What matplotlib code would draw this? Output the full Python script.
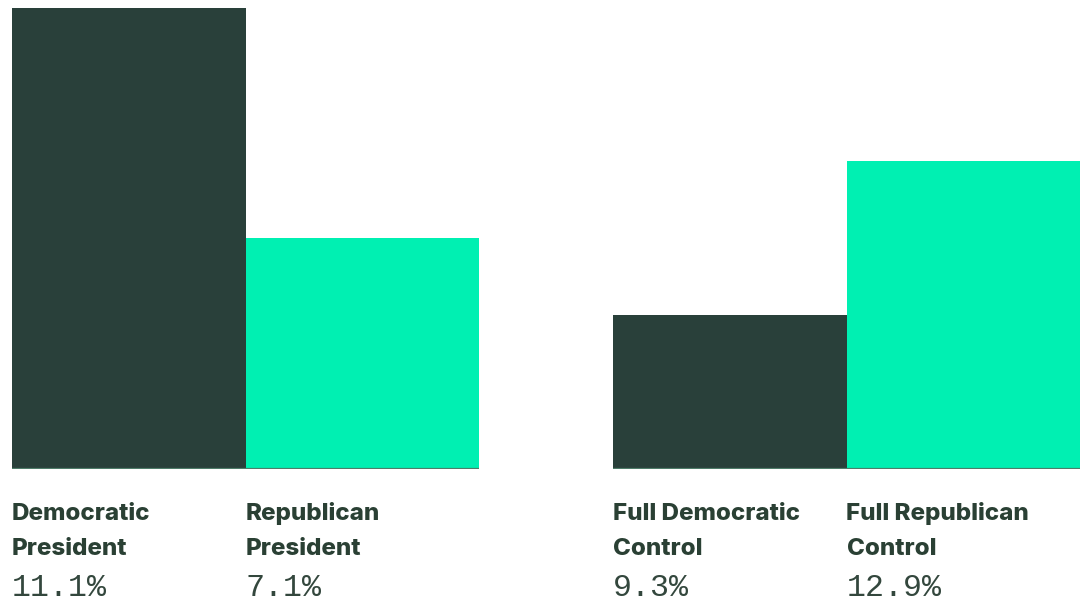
import matplotlib
matplotlib.use("Agg")
import matplotlib.pyplot as plt

DARK = "#29403a"
BRIGHT = "#00f0b2"
LINE = "#4f7d6a"
TEXT = "#2a4034"

# relative bar heights (tallest bar = 100)
left_labels = ["Democratic\nPresident", "Republican\nPresident"]
left_values = ["11.1%", "7.1%"]
left_heights = [100, 50.1]

right_labels = ["Full Democratic\nControl", "Full Republican\nControl"]
right_values = ["9.3%", "12.9%"]
right_heights = [33.4, 66.8]

W, H = 1086, 615
fig = plt.figure(figsize=(W / 100, H / 100), dpi=100)
fig.patch.set_facecolor("white")


def draw_group(x0, heights, labels, values):
    ax = fig.add_axes([x0 / W, (H - 469) / H, 467 / W, 461 / H])
    ax.bar([0, 1], heights, width=1, align="edge", color=[DARK, BRIGHT])
    ax.axhline(0, color=LINE, linewidth=1.6, zorder=3)
    ax.set_xlim(0, 2)
    ax.set_ylim(0, 100)
    ax.axis("off")
    for i, (lab, val) in enumerate(zip(labels, values)):
        first, second = lab.split("\n")
        for txt, off in [(first, 36.7), (second, 61.9)]:
            ax.annotate(txt, xy=(i, 0), xycoords="data", xytext=(0, -off),
                        textcoords="offset points", va="baseline", ha="left",
                        fontsize=17.4, fontweight="heavy", family="Inter", color=TEXT)
        ax.annotate(val, xy=(i, 0), xycoords="data", xytext=(0, -91.4),
                    textcoords="offset points", va="baseline", ha="left",
                    fontsize=22.8, family="Liberation Mono", color="#33473d")
    return ax


draw_group(12, left_heights, left_labels, left_values)
draw_group(613, right_heights, right_labels, right_values)

fig.savefig("out.png", dpi=100, facecolor="white")
